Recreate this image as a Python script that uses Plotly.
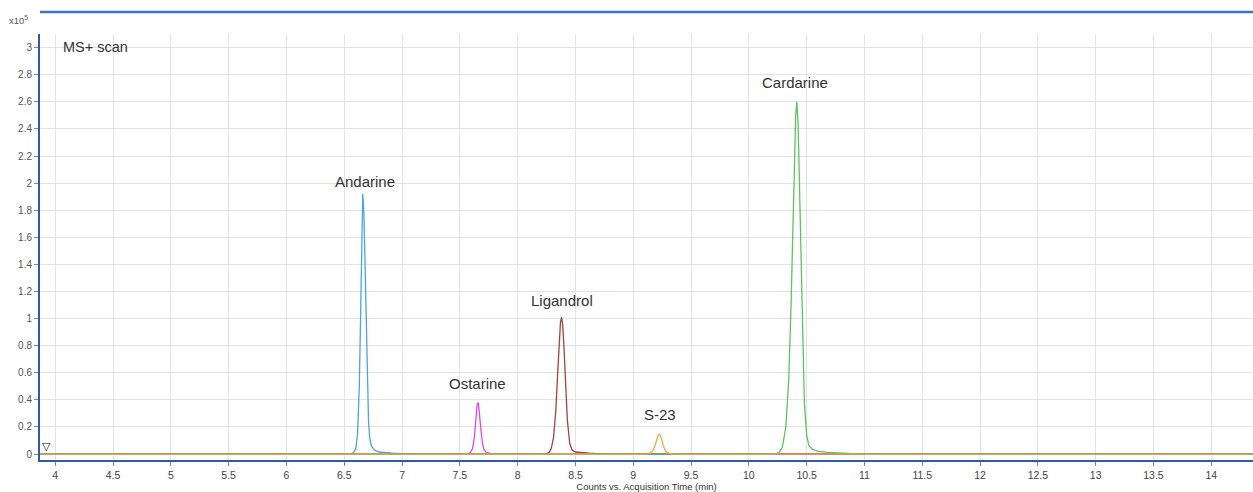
import plotly.graph_objects as go

# ---- data (intensity in units of 10^5 counts, time in min) ----
andarine_t = [3.87, 6.55, 6.58, 6.60, 6.615, 6.63, 6.64, 6.65, 6.66, 6.67, 6.68, 6.69, 6.70, 6.71, 6.72, 6.735, 6.75, 6.77, 6.80, 6.85, 6.92, 7.00, 7.20, 14.36]
andarine_y = [0.0, 0.0, 0.01, 0.04, 0.15, 0.50, 0.95, 1.55, 1.92, 1.78, 1.35, 0.90, 0.50, 0.24, 0.12, 0.06, 0.04, 0.025, 0.015, 0.01, 0.006, 0.003, 0.0, 0.0]

ostarine_t = [3.87, 7.56, 7.59, 7.61, 7.625, 7.64, 7.65, 7.66, 7.67, 7.68, 7.695, 7.71, 7.73, 7.76, 7.80, 14.36]
ostarine_y = [0.0, 0.0, 0.01, 0.04, 0.12, 0.27, 0.37, 0.38, 0.31, 0.20, 0.08, 0.03, 0.01, 0.004, 0.0, 0.0]

ligandrol_t = [3.87, 8.24, 8.27, 8.29, 8.31, 8.33, 8.345, 8.36, 8.37, 8.38, 8.39, 8.40, 8.415, 8.43, 8.45, 8.47, 8.50, 8.55, 8.62, 8.75, 14.36]
ligandrol_y = [0.0, 0.0, 0.01, 0.04, 0.12, 0.32, 0.58, 0.85, 0.97, 1.01, 0.95, 0.80, 0.50, 0.25, 0.08, 0.03, 0.015, 0.01, 0.006, 0.0, 0.0]

s23_t = [3.87, 9.12, 9.15, 9.17, 9.19, 9.205, 9.215, 9.225, 9.235, 9.245, 9.26, 9.28, 9.31, 9.35, 14.36]
s23_y = [0.0, 0.0, 0.008, 0.025, 0.065, 0.11, 0.14, 0.147, 0.138, 0.11, 0.06, 0.02, 0.005, 0.0, 0.0]

cardarine_t = [3.87, 10.22, 10.26, 10.29, 10.32, 10.345, 10.365, 10.38, 10.395, 10.405, 10.415, 10.425, 10.435, 10.45, 10.465, 10.48, 10.50, 10.52, 10.55, 10.60, 10.68, 10.80, 11.00, 14.36]
cardarine_y = [0.0, 0.0, 0.01, 0.05, 0.20, 0.55, 1.10, 1.65, 2.20, 2.50, 2.60, 2.45, 2.10, 1.45, 0.80, 0.38, 0.14, 0.06, 0.035, 0.02, 0.012, 0.006, 0.0, 0.0]

compound_names = ["Andarine", "Ostarine", "Ligandrol", "Cardarine", "S-23"]
compound_colors = ["#4ea3e4", "#e246e6", "#a4423e", "#5cc55c", "#f0a44a"]
label_x = [6.68, 7.65, 8.38, 10.40, 9.23]
label_y = [2.01, 0.52, 1.13, 2.74, 0.295]

x_ticks = [4, 4.5, 5, 5.5, 6, 6.5, 7, 7.5, 8, 8.5, 9, 9.5, 10, 10.5, 11, 11.5, 12, 12.5, 13, 13.5, 14]
y_ticks = [0, 0.2, 0.4, 0.6, 0.8, 1, 1.2, 1.4, 1.6, 1.8, 2, 2.2, 2.4, 2.6, 2.8, 3]

series_t = [andarine_t, ostarine_t, ligandrol_t, cardarine_t, s23_t]
series_y = [andarine_y, ostarine_y, ligandrol_y, cardarine_y, s23_y]

FONT = "Liberation Sans, Arial, sans-serif"

fig = go.Figure()
for name, col, t, y in zip(compound_names, compound_colors, series_t, series_y):
    fig.add_trace(go.Scatter(x=t, y=y, mode="lines", name=name,
                             line=dict(color=col, width=1.3, shape="linear"),
                             showlegend=False, hoverinfo="x+y+name"))

for name, lx, ly in zip(compound_names, label_x, label_y):
    fig.add_annotation(x=lx, y=ly, text=name, showarrow=False,
                       font=dict(family=FONT, size=15, color="#333333"),
                       xanchor="center", yanchor="middle")

AXIS_BLUE = "#2f5aa8"
fig.update_xaxes(range=[3.868, 14.361], tickvals=x_ticks,
                 ticktext=[f"{v:g}" for v in x_ticks],
                 showgrid=True, gridcolor="#e3e3e3", gridwidth=1,
                 zeroline=False, showline=True, linecolor=AXIS_BLUE, linewidth=2,
                 ticks="outside", ticklen=4, tickcolor="#888888",
                 tickfont=dict(family=FONT, size=10.5, color="#444444"),
                 title=dict(text="Counts vs. Acquisition Time (min)", standoff=4,
                            font=dict(family=FONT, size=9.5, color="#333333")))
fig.update_yaxes(range=[-0.044, 3.101], tickvals=y_ticks,
                 ticktext=[f"{v:g}" for v in y_ticks],
                 showgrid=True, gridcolor="#e3e3e3", gridwidth=1,
                 zeroline=False, showline=True, linecolor=AXIS_BLUE, linewidth=2,
                 ticks="outside", ticklen=4, tickcolor="#888888",
                 tickfont=dict(family=FONT, size=10, color="#555555"))

# top frame line
fig.add_shape(type="line", xref="paper", yref="paper", x0=0, x1=1, y0=1.0515, y1=1.0515,
              line=dict(color="#3a74c8", width=2.5))

fig.add_annotation(xref="paper", yref="paper", x=0.0173, y=0.9695, text="MS+ scan",
                   showarrow=False, xanchor="left", yanchor="middle",
                   font=dict(family=FONT, size=14.5, color="#333333"))
fig.add_annotation(xref="paper", yref="paper", x=-0.0175, y=1.032, text="x10<sup>5</sup>",
                   showarrow=False, xanchor="center", yanchor="middle",
                   font=dict(family=FONT, size=9.5, color="#555555"))
fig.add_annotation(xref="paper", yref="y", x=0.0, y=-0.01, text="▽",
                   showarrow=False, xanchor="left", yanchor="bottom",
                   font=dict(family="DejaVu Sans", size=11, color="#111111"))

fig.update_layout(width=1253, height=492,
                  margin=dict(l=40, r=0, t=34, b=32),
                  paper_bgcolor="white", plot_bgcolor="white")

fig.write_html("out.html")
